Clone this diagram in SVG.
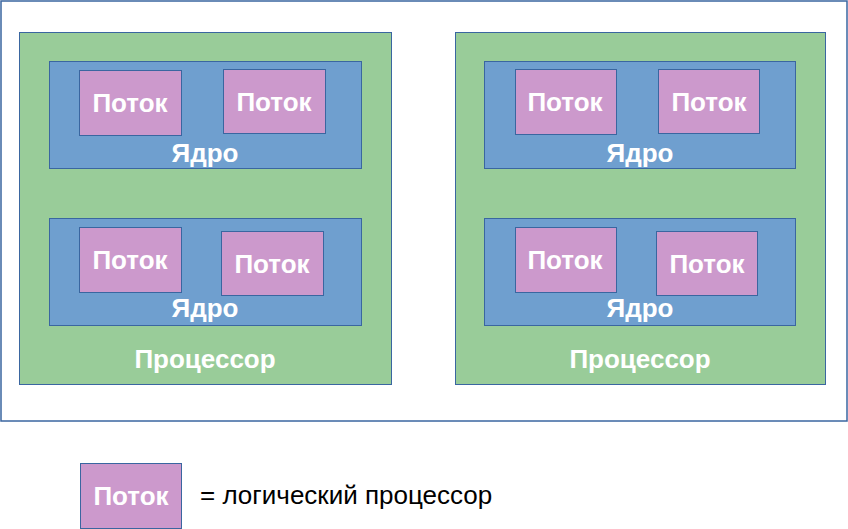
<svg xmlns="http://www.w3.org/2000/svg" width="848" height="529" viewBox="0 0 848 529">
<style>
.cpu{fill:#99cc99;stroke:#3a66a0;stroke-width:1}
.core{fill:#6f9fcf;stroke:#3a66a0;stroke-width:1}
.th{fill:#cc99cc;stroke:#3a66a0;stroke-width:1}
.t{font-family:"Liberation Sans",Arial,sans-serif;font-weight:bold;font-size:26px;fill:#fff;text-anchor:middle}
.l{font-family:"Liberation Sans",Arial,sans-serif;font-size:26px;fill:#000}
</style>
<rect x="1" y="1" width="846" height="420" fill="#fff" stroke="#3a66a0" stroke-width="1.5"/>
<g id="cpu1">
<rect class="cpu" x="19.5" y="32.5" width="372" height="352"/>
<text class="t" x="205" y="368">Процессор</text>
</g>
<g id="cpu2">
<rect class="cpu" x="455.5" y="32.5" width="370" height="352"/>
<text class="t" x="640" y="368">Процессор</text>
</g>
<g id="core1"><rect class="core" x="49.5" y="61.5" width="312" height="107"/><text class="t" x="205" y="162">Ядро</text></g>
<g id="core2"><rect class="core" x="49.5" y="218.5" width="312" height="107"/><text class="t" x="205" y="317">Ядро</text></g>
<g id="core3"><rect class="core" x="484.5" y="61.5" width="311" height="107"/><text class="t" x="640" y="162">Ядро</text></g>
<g id="core4"><rect class="core" x="484.5" y="218.5" width="311" height="107"/><text class="t" x="640" y="317">Ядро</text></g>
<g id="th1"><rect class="th" x="79.5" y="70.5" width="102" height="65"/><text class="t" x="130" y="112">Поток</text></g>
<g id="th2"><rect class="th" x="223.5" y="69.5" width="102" height="64"/><text class="t" x="274" y="111">Поток</text></g>
<g id="th3"><rect class="th" x="79.5" y="227.5" width="102" height="65"/><text class="t" x="130" y="269">Поток</text></g>
<g id="th4"><rect class="th" x="221.5" y="231.5" width="102" height="64"/><text class="t" x="272" y="273">Поток</text></g>
<g id="th5"><rect class="th" x="515.5" y="69.5" width="101" height="65"/><text class="t" x="565" y="111">Поток</text></g>
<g id="th6"><rect class="th" x="658.5" y="69.5" width="101" height="64"/><text class="t" x="709" y="111">Поток</text></g>
<g id="th7"><rect class="th" x="515.5" y="227.5" width="101" height="65"/><text class="t" x="565" y="269">Поток</text></g>
<g id="th8"><rect class="th" x="656.5" y="231.5" width="101" height="64"/><text class="t" x="707" y="273">Поток</text></g>
<g id="legend"><rect class="th" x="80.5" y="463.5" width="101" height="65"/><text class="t" x="131" y="505">Поток</text>
<text class="l" x="200" y="504">= логический процессор</text></g>
<g id="connectors"/>
</svg>
